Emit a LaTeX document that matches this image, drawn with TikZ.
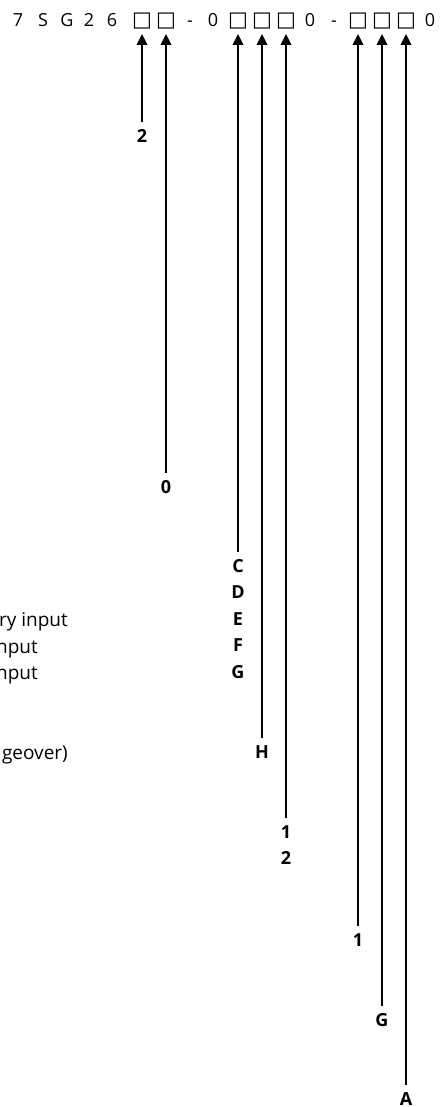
\documentclass[tikz,border=0pt]{standalone}
\usepackage{fontspec}
\setmainfont{Open Sans}
\newfontfamily\symfont{DejaVu Sans}
\usetikzlibrary{positioning, arrows.meta}
\tikzset{hdr/.style={inner sep=0pt, anchor=base, font=\fontsize{18}{18}\selectfont}}
\tikzset{slot/.style={hdr, font=\fontsize{21}{21}\symfont}}
\tikzset{code/.style={inner sep=0pt, anchor=north, align=center, font=\fontsize{18}{26.5}\selectfont\bfseries}}
\tikzset{lgd/.style={inner sep=0pt, anchor=base east, font=\fontsize{19}{19}\selectfont}}
\tikzset{arr/.style={draw, -{Triangle[width=10pt,length=11pt]}, line width=2.6pt, shorten <=7pt, shorten >=4pt}}

\begin{document}
\begin{tikzpicture}[x=1pt, y=-1pt]
	\useasboundingbox (0,0) rectangle (442,1107);
	% order number
	\foreach \x/\c/\n in {18/7/h1, 43/S/h2, 67/G/h3, 89/2/h4, 112/6/h5,
	   190/-/h8, 213/0/h9, 310/0/h13, 334/-/h14, 430/0/h18}
	   \node[hdr] (\n) at (\x,27) {\c};
	\foreach \x/\n in {142/s1, 166/s2, 238/s3, 262/s4, 286/s5, 358/s6, 382/s7, 406/s8}
	   \node[slot] (\n) at (\x,27) {□};
	% option codes
	\node[code] (c1) at (142,129) {2};
	\node[code] (c2) at (166,480) {0};
	\node[code] (c3) at (238,559) {C\\D\\E\\F\\G};
	\node[code] (c4) at (262,745) {H};
	\node[code] (c5) at (286,825) {1\\2};
	\node[code] (c6) at (358,933) {1};
	\node[code] (c7) at (382,1013) {G};
	\node[code] (c8) at (406,1092) {A};
	\foreach \i in {1,...,8}
	   \draw[arr] (c\i) -- (s\i);
	% descriptions
	\node[lgd] (d1) at (68,626.5) {ry input};
	\node[lgd] (d2) at (38,653) {nput};
	\node[lgd] (d3) at (38,679.5) {nput};
	\node[lgd] (d4) at (68,759.5) {geover)};
\end{tikzpicture}
\end{document}
